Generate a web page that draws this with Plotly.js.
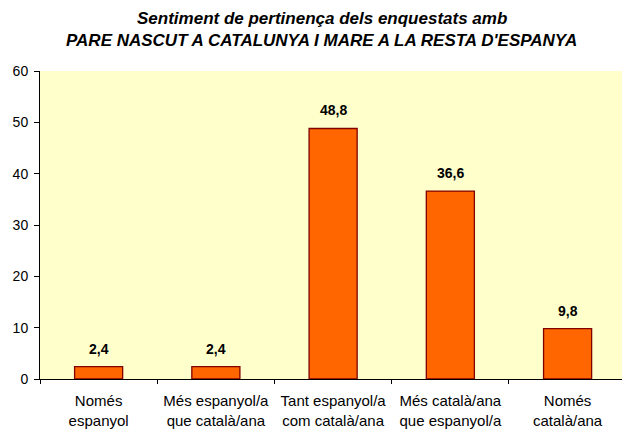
<!DOCTYPE html>
<html>
<head>
<meta charset="utf-8">
<script src="https://cdn.plot.ly/plotly-3.0.1.min.js"></script>
<style>html,body{margin:0;padding:0;background:#fff;}#chart{width:622px;height:429px;}</style>
</head>
<body>
<div id="chart"></div>
<script>
var categories = ["Només<br>espanyol", "Més espanyol/a<br>que català/ana", "Tant espanyol/a<br>com català/ana", "Més català/ana<br>que espanyol/a", "Només<br>català/ana"];
var values = [2.4, 2.4, 48.8, 36.6, 9.8];
var titleLines = ["Sentiment de pertinença dels enquestats amb", "PARE NASCUT A CATALUNYA I MARE A LA RESTA D'ESPANYA"];
var yTicks = [0, 10, 20, 30, 40, 50, 60];

var font = "Liberation Sans, Arial, sans-serif";

var trace = {
  type: "bar",
  x: categories,
  y: values,
  width: 0.41,
  marker: {color: "#FF6600", line: {color: "#800000", width: 1.3}},
  hoverinfo: "none"
};

var annotations = values.map(function (v, i) {
  return {
    x: categories[i], y: v, xref: "x", yref: "y",
    text: "<b>" + v.toFixed(1).replace(".", ",") + "</b>",
    showarrow: false, yanchor: "middle", yshift: 18,
    font: {family: font, size: 14, color: "#000"}
  };
});
annotations.push({
  xref: "paper", yref: "paper", x: 0.4845, y: 1.172, xanchor: "center", yanchor: "middle",
  text: "<b><i>" + titleLines[0] + "</i></b>", showarrow: false,
  font: {family: font, size: 17, color: "#000"}
});
annotations.push({
  xref: "paper", yref: "paper", x: 0.4845, y: 1.1006, xanchor: "center", yanchor: "middle",
  text: "<b><i>" + titleLines[1] + "</i></b>", showarrow: false,
  font: {family: font, size: 17, color: "#000"}
});

var layout = {
  width: 622, height: 429,
  margin: {l: 40, r: 0, t: 71, b: 50, pad: 0},
  paper_bgcolor: "#FFFFFF",
  plot_bgcolor: "#FFFFCC",
  showlegend: false,
  font: {family: font, size: 14, color: "#000"},
  xaxis: {
    type: "category",
    range: [-0.5, 4.464],
    tickson: "boundaries",
    ticks: "outside", ticklen: 4, tickcolor: "#000", tickwidth: 1,
    ticklabelstandoff: 8,
    showline: true, linecolor: "#000", linewidth: 1,
    showgrid: false, zeroline: false,
    tickfont: {family: font, size: 15, color: "#000"},
    fixedrange: true
  },
  yaxis: {
    range: [0, 60],
    tickvals: yTicks,
    ticks: "outside", ticklen: 5, tickcolor: "#000", tickwidth: 1,
    ticklabelstandoff: 3,
    showline: true, linecolor: "#000", linewidth: 1,
    showgrid: false, zeroline: false,
    tickfont: {family: font, size: 14, color: "#000"},
    fixedrange: true
  },
  annotations: annotations
};

Plotly.newPlot("chart", [trace], layout, {displayModeBar: false, staticPlot: true});
</script>
</body>
</html>
